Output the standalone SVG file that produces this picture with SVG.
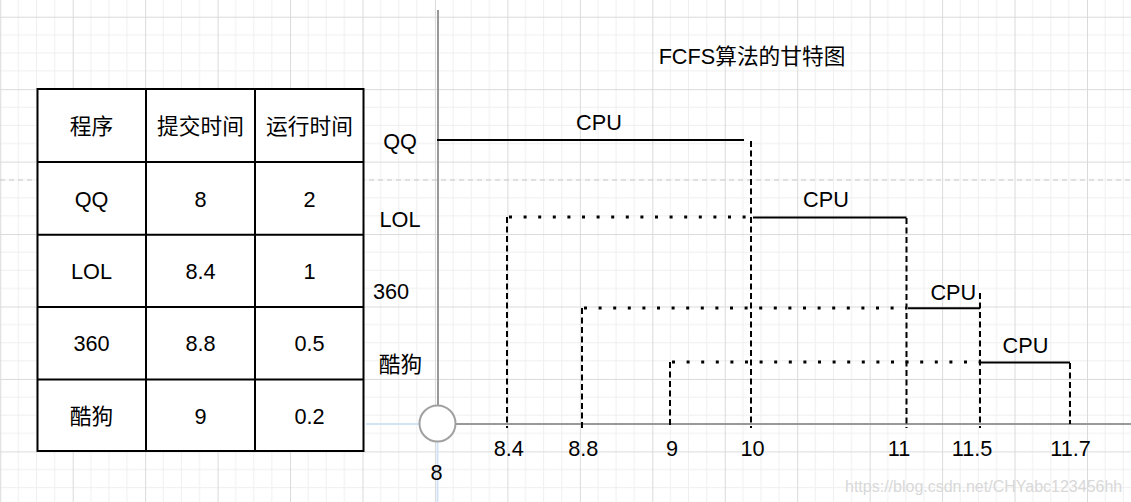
<svg xmlns="http://www.w3.org/2000/svg" width="1131" height="502" viewBox="0 0 1131 502">
<defs>
<pattern id="grid" x="0.25" y="16.7" width="72.45" height="72.45" patternUnits="userSpaceOnUse">
<path d="M18.11 0V72.45M36.22 0V72.45M54.34 0V72.45M0 18.11H72.45M0 36.22H72.45M0 54.34H72.45" stroke="#efefef" stroke-width="1" fill="none"/>
<path d="M0.5 0V72.45M0 0.5H72.45" stroke="#dadada" stroke-width="1" fill="none"/>
</pattern>
</defs>
<style>
text{font-family:"Liberation Sans","Noto Sans CJK SC",sans-serif;font-size:21.7px;fill:#000;}
.c{text-anchor:middle;}
.cell{fill:#fff;stroke:#000;stroke-width:2;}
.solid{stroke:#000;stroke-width:2;fill:none;}
.dash{stroke:#000;stroke-width:2;stroke-dasharray:6 3.5;fill:none;}
.dot{stroke:#000;stroke-width:3;stroke-dasharray:3 11.6;fill:none;}
.axis{stroke:#999;stroke-width:2;fill:none;}
.guide{stroke:#d3e3f6;stroke-width:2;fill:none;}
</style>
<rect width="1131" height="502" fill="#fff"/>
<rect width="1131" height="502" fill="url(#grid)"/>
<path d="M0 180H1131" stroke="#c6c6c6" stroke-width="1" stroke-dasharray="5 4"/>

<g id="guides">
<path class="guide" d="M366 424H420M437.5 442V502"/>
</g>

<g id="table">
<rect class="cell" x="37.5" y="89" width="326" height="362"/>
<path d="M146 89V451M255 89V451M37.5 162H363.5M37.5 234.7H363.5M37.5 307H363.5M37.5 379.5H363.5" stroke="#000" stroke-width="2" fill="none"/>
<text class="c" x="91.5" y="134">程序</text>
<text class="c" x="200.5" y="134">提交时间</text>
<text class="c" x="309.5" y="134">运行时间</text>
<text class="c" x="91.5" y="206.5">QQ</text>
<text class="c" x="200.5" y="206.5">8</text>
<text class="c" x="309.5" y="206.5">2</text>
<text class="c" x="91.5" y="279">LOL</text>
<text class="c" x="200.5" y="279">8.4</text>
<text class="c" x="309.5" y="279">1</text>
<text class="c" x="91.5" y="351">360</text>
<text class="c" x="200.5" y="351">8.8</text>
<text class="c" x="309.5" y="351">0.5</text>
<text class="c" x="91.5" y="423.5">酷狗</text>
<text class="c" x="200.5" y="423.5">9</text>
<text class="c" x="309.5" y="423.5">0.2</text>
</g>

<g id="title">
<text class="c" x="752" y="63.5">FCFS算法的甘特图</text>
</g>

<g id="axes">
<path class="axis" d="M438 10V405M456 424H1131"/>
<circle cx="437.5" cy="423.5" r="18" fill="#fff" stroke="#a0a0a0" stroke-width="2"/>
</g>

<g id="row-labels">
<text class="c" x="400" y="148.5">QQ</text>
<text class="c" x="400" y="226.5">LOL</text>
<text class="c" x="391" y="299.3">360</text>
<text class="c" x="400.5" y="371.5">酷狗</text>
</g>

<g id="tick-labels">
<text class="c" x="436.5" y="480">8</text>
<text class="c" x="508.8" y="456">8.4</text>
<text class="c" x="583.3" y="456">8.8</text>
<text class="c" x="672" y="456">9</text>
<text class="c" x="752.5" y="456">10</text>
<text class="c" x="899" y="456">11</text>
<text class="c" x="972" y="456">11.5</text>
<text class="c" x="1070.5" y="456">11.7</text>
</g>

<g id="cpu-labels">
<text class="c" x="599" y="130">CPU</text>
<text class="c" x="826" y="206.5">CPU</text>
<text class="c" x="953.3" y="299.5">CPU</text>
<text class="c" x="1025.5" y="353">CPU</text>
</g>

<g id="connectors">
<path class="solid" d="M437 140H744"/>
<path class="dash" d="M751 141V428"/>
<path class="dot" d="M509 217H751"/>
<path class="dash" d="M507 217V428"/>
<path class="solid" d="M753 217.5H906.5"/>
<path class="dash" d="M906.5 218V428"/>
<path class="dot" d="M584 308H906"/>
<path class="dash" d="M582 308V428"/>
<path class="solid" d="M908 308.3H980"/>
<path class="dash" d="M980 293V428"/>
<path class="dot" d="M672 362H980"/>
<path class="dash" d="M670 362V428"/>
<path class="solid" d="M979 362.5H1070"/>
<path class="dash" d="M1070 363V424"/>
</g>

<g id="watermark">
<text x="845" y="492" style="font-size:16px;fill:#d8d8d8;">https://blog.csdn.net/CHYabc123456hh</text>
</g>
</svg>
